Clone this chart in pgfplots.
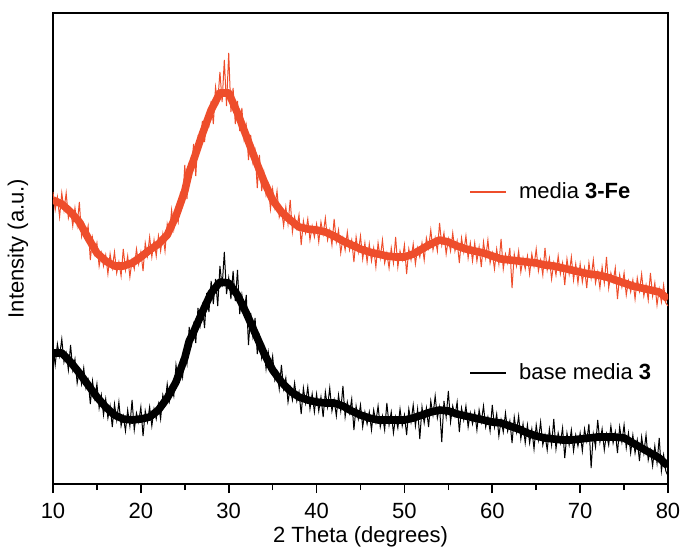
\documentclass[border=0pt]{standalone}
\usepackage{fontspec}
\setmainfont{Liberation Sans}
\usepackage{pgfplots}
\pgfplotsset{compat=1.18}
\definecolor{fered}{RGB}{238,77,43}

\begin{document}
\begin{tikzpicture}[font=\fontsize{11}{13.2}\selectfont]
\begin{axis}[
  name=ax, scale only axis,
  width=307.5pt, height=235.5pt,
  xmin=10, xmax=80, ymin=0, ymax=471,
  axis line style={line width=0.9pt},
  xtick={10,20,...,80}, minor xtick={15,25,...,75}, ytick=\empty,
  xtick pos=bottom, tick align=outside,
  major tick length=4.5pt, minor tick length=3pt,
  tick style={line width=0.8pt, black},
  xticklabel style={yshift=-1.5pt},
  /pgf/number format/assume math mode=true,
  xlabel={2 Theta (degrees)}, ylabel={Intensity (a.u.)},
  xlabel style={at={(axis description cs:0.5,-0.113)}, anchor=center},
  ylabel style={at={(axis description cs:-0.057,0.5)}, anchor=center},
  legend style={at={(rel axis cs:0.676,0.65)}, anchor=north west,
    draw=none, fill=none, row sep=77pt, inner sep=0pt,
    nodes={inner sep=2pt},
    /tikz/every odd column/.append style={column sep=4pt}},
  legend image code/.code={\draw[#1, line width=1pt] (0pt,0pt) -- (18pt,0pt);},
  legend cell align=left,
]
% band cores (centre of the noisy traces)
\addplot[fered, line width=3.8pt, line join=round, forget plot] coordinates {
(10,284) (11,280) (12,272) (13,262) (14,246) (15,231) (16,223) (17,218)
(18,218) (19,221) (20,227) (21,234) (22,240) (23,249) (24,268) (25,293)
(25.5,312) (26,324) (27,350) (28,374) (29,391) (30,391) (31,371) (32,348)
(33,325) (34,303) (35,284) (36,272) (37,264) (38,257) (39,255) (40,254)
(41,252) (42,248) (43,243) (44,239) (45,235) (46,232) (47,230) (48,228)
(49,227) (50,227) (51,230) (52,235) (53,240) (54,244) (55,242) (56,238)
(57,235) (58,233) (59,231) (60,228) (61,225) (62,224) (63,223) (64,222)
(65,221) (66,219) (67,218) (68,216) (69,214) (70,212) (71,210) (72,209)
(73,207) (74,204) (75,201) (76,198) (77,196) (78,194) (79,192) (80,185)
};
\addplot[black, line width=3.8pt, line join=round, forget plot] coordinates {
(10,131) (11,131) (12,122) (13,111) (14,99) (15,87) (16,77) (17,69)
(18,65) (19,64) (20,65) (21,67) (22,74) (23,86) (24,102) (25,126)
(25.5,143) (26,152) (27,172) (28,191) (29,202) (30,201) (31,189) (32,171)
(33,151) (34,131) (35,114) (36,102) (37,93) (38,87) (39,84) (40,82)
(41,81) (42,81) (43,78) (44,73) (45,69) (46,66) (47,64) (48,64)
(49,64) (50,64) (51,66) (52,69) (53,72) (54,74) (55,73) (56,70)
(57,68) (58,66) (59,64) (60,62) (61,61) (62,58) (63,55) (64,51)
(65,48) (66,46) (67,45) (68,44) (69,44) (70,45) (71,46) (72,47)
(73,47) (74,47) (75,46) (76,41) (77,36) (78,31) (79,26) (80,18)
};
% media 3-Fe
\addplot[fered, line width=0.5pt] coordinates {
(10,292) (10.25,274) (10.5,287) (10.75,267)
(11,291) (11.25,274) (11.5,291) (11.75,266)
(12,275) (12.25,258) (12.5,276) (12.75,259)
(13,282) (13.25,248) (13.5,260) (13.75,247)
(14,258) (14.25,224) (14.5,246) (14.75,230)
(15,241) (15.25,218) (15.5,231) (15.75,218)
(16,229) (16.25,210) (16.5,230) (16.75,216)
(17,232) (17.25,211) (17.5,222) (17.75,208)
(18,235) (18.25,214) (18.5,228) (18.75,207)
(19,224) (19.25,215) (19.5,235) (19.75,220)
(20,232) (20.25,213) (20.5,241) (20.75,228)
(21,247) (21.25,227) (21.5,244) (21.75,228)
(22,248) (22.25,233) (22.5,250) (22.75,233)
(23,260) (23.25,250) (23.5,274) (23.75,255)
(24,271) (24.25,262) (24.5,290) (24.75,281)
(25,319) (25.25,285) (25.5,320) (25.75,314)
(26,340) (26.25,308) (26.5,346) (26.75,337)
(27,363) (27.25,342) (27.5,367) (27.75,359)
(28,383) (28.25,360) (28.5,397) (28.75,382)
(29,412) (29.25,382) (29.5,424) (29.75,378)
(30,431) (30.25,372) (30.5,396) (30.75,360)
(31,383) (31.25,353) (31.5,376) (31.75,345)
(32,358) (32.25,324) (32.5,349) (32.75,322)
(33,333) (33.25,296) (33.5,329) (33.75,293)
(34,311) (34.25,289) (34.5,299) (34.75,275)
(35,295) (35.25,277) (35.5,293) (35.75,267)
(36,275) (36.25,258) (36.5,277) (36.75,260)
(37,284) (37.25,252) (37.5,267) (37.75,256)
(38,269) (38.25,239) (38.5,263) (38.75,251)
(39,265) (39.25,244) (39.5,258) (39.75,247)
(40,260) (40.25,242) (40.5,262) (40.75,250)
(41,266) (41.25,244) (41.5,254) (41.75,239)
(42,265) (42.25,242) (42.5,254) (42.75,231)
(43,246) (43.25,234) (43.5,252) (43.75,234)
(44,244) (44.25,222) (44.5,247) (44.75,232)
(45,248) (45.25,225) (45.5,241) (45.75,222)
(46,240) (46.25,223) (46.5,236) (46.75,217)
(47,241) (47.25,226) (47.5,244) (47.75,221)
(48,231) (48.25,216) (48.5,236) (48.75,221)
(49,247) (49.25,217) (49.5,233) (49.75,224)
(50,239) (50.25,210) (50.5,235) (50.75,224)
(51,240) (51.25,220) (51.5,236) (51.75,227)
(52,241) (52.25,224) (52.5,246) (52.75,236)
(53,254) (53.25,234) (53.5,246) (53.75,233)
(54,261) (54.25,239) (54.5,251) (54.75,230)
(55,245) (55.25,233) (55.5,251) (55.75,233)
(56,243) (56.25,221) (56.5,246) (56.75,232)
(57,248) (57.25,226) (57.5,241) (57.75,223)
(58,241) (58.25,223) (58.5,237) (58.75,217)
(59,242) (59.25,226) (59.5,244) (59.75,221)
(60,231) (60.25,215) (60.5,235) (60.75,220)
(61,245) (61.25,215) (61.5,230) (61.75,221)
(62,236) (62.25,196) (62.5,230) (62.75,218)
(63,233) (63.25,212) (63.5,226) (63.75,215)
(64,228) (64.25,210) (64.5,230) (64.75,218)
(65,235) (65.25,213) (65.5,224) (65.75,209)
(66,236) (66.25,214) (66.5,226) (66.75,205)
(67,221) (67.25,209) (67.5,228) (67.75,210)
(68,221) (68.25,199) (68.5,225) (68.75,210)
(69,227) (69.25,204) (69.5,220) (69.75,201)
(70,220) (70.25,202) (70.5,216) (70.75,196)
(71,221) (71.25,206) (71.5,224) (71.75,201)
(72,212) (72.25,196) (72.5,217) (72.75,201)
(73,227) (73.25,196) (73.5,211) (73.75,202)
(74,216) (74.25,185) (74.5,209) (74.75,197)
(75,211) (75.25,189) (75.5,203) (75.75,192)
(76,204) (76.25,185) (76.5,206) (76.75,193)
(77,210) (77.25,188) (77.5,199) (77.75,184)
(78,211) (78.25,188) (78.5,201) (78.75,179)
(79,195) (79.25,182) (79.5,199) (79.75,181)
(80,178)
};
\addlegendentry{media \textbf{3-Fe}}
% base media 3
\addplot[black, line width=0.5pt] coordinates {
(10,137) (10.25,119) (10.5,140) (10.75,128)
(11,145) (11.25,122) (11.5,131) (11.75,114)
(12,139) (12.25,114) (12.5,125) (12.75,101)
(13,114) (13.25,100) (13.5,116) (13.75,96)
(14,104) (14.25,80) (14.5,103) (14.75,86)
(15,100) (15.25,76) (15.5,89) (15.75,69)
(16,85) (16.25,66) (16.5,78) (16.75,57)
(17,80) (17.25,64) (17.5,82) (17.75,58)
(18,68) (18.25,53) (18.5,74) (18.75,58)
(19,84) (19.25,54) (19.5,71) (19.75,62)
(20,77) (20.25,48) (20.5,73) (20.75,62)
(21,77) (21.25,58) (21.5,75) (21.75,65)
(22,80) (22.25,65) (22.5,89) (22.75,80)
(23,100) (23.25,83) (23.5,98) (23.75,88)
(24,119) (24.25,103) (24.5,122) (24.75,107)
(25,130) (25.25,120) (25.5,157) (25.75,140)
(26,159) (26.25,141) (26.5,176) (26.75,159)
(27,178) (27.25,156) (27.5,191) (27.75,172)
(28,203) (28.25,180) (28.5,205) (28.75,178)
(29,218) (29.25,197) (29.5,232) (29.75,190)
(30,206) (30.25,185) (30.5,213) (30.75,183)
(31,214) (31.25,170) (31.5,189) (31.75,171)
(32,189) (32.25,139) (32.5,171) (32.75,148)
(33,166) (33.25,130) (33.5,147) (33.75,126)
(34,137) (34.25,115) (34.5,132) (34.75,115)
(35,128) (35.25,104) (35.5,112) (35.75,95)
(36,119) (36.25,95) (36.5,106) (36.75,82)
(37,96) (37.25,84) (37.5,101) (37.75,83)
(38,92) (38.25,70) (38.5,96) (38.75,81)
(39,97) (39.25,75) (39.5,90) (39.75,72)
(40,90) (40.25,73) (40.5,87) (40.75,67)
(41,92) (41.25,77) (41.5,96) (41.75,73)
(42,84) (42.25,68) (42.5,89) (42.75,73)
(43,98) (43.25,67) (43.5,82) (43.75,71)
(44,85) (44.25,54) (44.5,78) (44.75,65)
(45,79) (45.25,57) (45.5,72) (45.75,60)
(46,72) (46.25,54) (46.5,74) (46.75,62)
(47,78) (47.25,57) (47.5,68) (47.75,54)
(48,81) (48.25,59) (48.5,72) (48.75,51)
(49,67) (49.25,56) (49.5,75) (49.75,58)
(50,69) (50.25,49) (50.5,75) (50.75,62)
(51,79) (51.25,58) (51.5,75) (51.75,45)
(52,77) (52.25,61) (52.5,76) (52.75,57)
(53,83) (53.25,69) (53.5,88) (53.75,66)
(54,77) (54.25,42) (54.5,83) (54.75,67)
(55,93) (55.25,62) (55.5,78) (55.75,68)
(56,82) (56.25,52) (56.5,76) (56.75,64)
(57,78) (57.25,57) (57.5,71) (57.75,60)
(58,72) (58.25,54) (58.5,74) (58.75,62)
(59,78) (59.25,57) (59.5,67) (59.75,53)
(60,79) (60.25,57) (60.5,70) (60.75,48)
(61,64) (61.25,52) (61.5,71) (61.75,53)
(62,63) (62.25,41) (62.5,67) (62.75,52)
(63,68) (63.25,45) (63.5,60) (63.75,41)
(64,59) (64.25,41) (64.5,55) (64.75,35)
(65,59) (65.25,44) (65.5,62) (65.75,39)
(66,49) (66.25,34) (66.5,55) (66.75,39)
(67,65) (67.25,35) (67.5,51) (67.75,41)
(68,56) (68.25,26) (68.5,51) (68.75,39)
(69,54) (69.25,33) (69.5,49) (69.75,38)
(70,51) (70.25,33) (70.5,55) (70.75,43)
(71,60) (71.25,16) (71.5,50) (71.75,37)
(72,64) (72.25,42) (72.5,55) (72.75,34)
(73,50) (73.25,39) (73.5,58) (73.75,41)
(74,52) (74.25,31) (74.5,57) (74.75,42)
(75,59) (75.25,36) (75.5,51) (75.75,31)
(76,49) (76.25,31) (76.5,44) (76.75,23)
(77,47) (77.25,31) (77.5,49) (77.75,24)
(78,34) (78.25,18) (78.5,38) (78.75,21)
(79,46) (79.25,13) (79.5,29) (79.75,13)
(80,8)
};
\addlegendentry{base media \textbf{3}}
\end{axis}
\pgfresetboundingbox
\path[use as bounding box] ([xshift=-26.5pt,yshift=-33pt]ax.south west) rectangle ([xshift=6.5pt,yshift=6.5pt]ax.north east);
\end{tikzpicture}
\end{document}
